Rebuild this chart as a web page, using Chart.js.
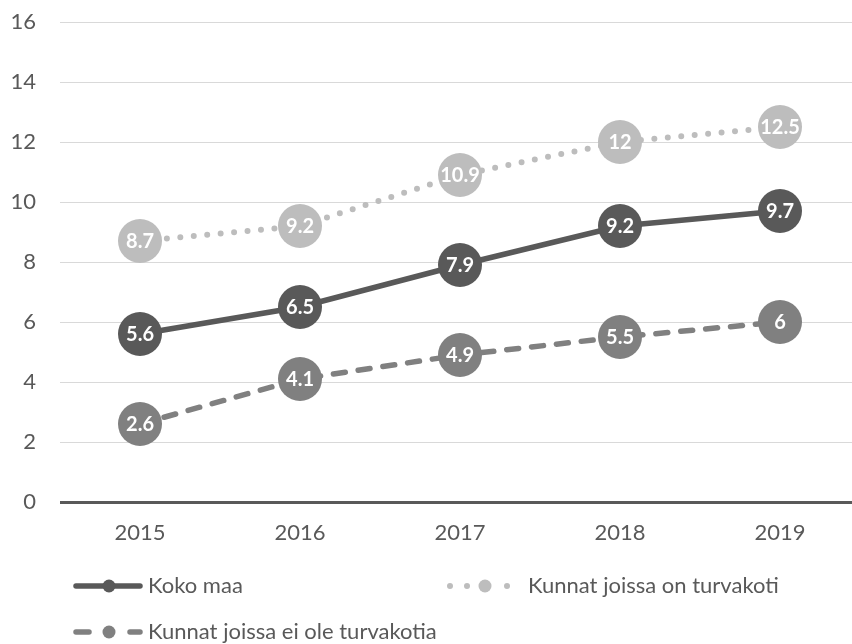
<!DOCTYPE html>
<html><head><meta charset="utf-8">
<script src="https://cdn.jsdelivr.net/npm/chart.js@4"></script>
<style>html,body{margin:0;padding:0;overflow:hidden;background:#fff}#w{width:860px;height:644px}</style>
</head><body><div id="w"><canvas id="c" width="860" height="644"></canvas></div>
<script>
const categories = ['2015','2016','2017','2018','2019'];
const kokoMaa = [5.6, 6.5, 7.9, 9.2, 9.7];
const onTurvakoti = [8.7, 9.2, 10.9, 12, 12.5];
const eiTurvakotia = [2.6, 4.1, 4.9, 5.5, 6];
const seriesNames = ['Koko maa','Kunnat joissa on turvakoti','Kunnat joissa ei ole turvakotia'];
const yTicks = [0,2,4,6,8,10,12,14,16];

const FONT = 'Lato, "Open Sans", sans-serif';
const TXT = '#595959';

const labelPlugin = {
  id: 'vals',
  afterDatasetsDraw(chart){
    const ctx = chart.ctx;
    ctx.save();
    ctx.font = 'bold 20px ' + FONT;
    ctx.fillStyle = '#fff';
    ctx.textAlign = 'center';
    ctx.textBaseline = 'middle';
    chart.data.datasets.forEach((ds, i) => {
      chart.getDatasetMeta(i).data.forEach((pt, j) => {
        ctx.fillText(String(ds.data[j]), pt.x, pt.y + 1);
      });
    });
    ctx.restore();
  }
};

const legendPlugin = {
  id: 'customLegend',
  afterDraw(chart){
    const ctx = chart.ctx;
    const items = [
      {x1:76, x2:140, mx:109, tx:148, y:586, dash:[]},
      {x1:450, x2:510, mx:485, tx:528, y:586, dash:[0,17,0,40,0,100]},
      {x1:76, x2:140, mx:109, tx:148, y:632, dash:[13,41,10,100]}
    ];
    ctx.save();
    chart.data.datasets.forEach((ds, i) => {
      const it = items[i];
      ctx.strokeStyle = ds.borderColor;
      ctx.lineWidth = ds.borderWidth;
      ctx.lineCap = 'round';
      ctx.setLineDash(it.dash);
      ctx.beginPath();
      ctx.moveTo(it.x1, it.y);
      ctx.lineTo(it.x2, it.y);
      ctx.stroke();
      ctx.setLineDash([]);
      ctx.fillStyle = ds.pointBackgroundColor;
      ctx.beginPath();
      ctx.arc(it.mx, it.y, 6.5, 0, Math.PI * 2);
      ctx.fill();
      ctx.fillStyle = TXT;
      ctx.font = '22px ' + FONT;
      ctx.textAlign = 'left';
      ctx.textBaseline = 'middle';
      ctx.fillText(ds.label, it.tx, it.y);
    });
    ctx.restore();
  }
};

new Chart(document.getElementById('c'), {
  type: 'line',
  data: {
    labels: categories,
    datasets: [
      {label: seriesNames[0], data: kokoMaa, borderColor:'#595959', pointBackgroundColor:'#595959', pointBorderColor:'#595959', borderWidth:5.5, borderCapStyle:'round', pointRadius:22, pointHoverRadius:22, pointBorderWidth:0, order:1},
      {label: seriesNames[1], data: onTurvakoti, borderColor:'#BDBDBD', pointBackgroundColor:'#BDBDBD', pointBorderColor:'#BDBDBD', borderWidth:6, borderDash:[0,13.5], borderCapStyle:'round', pointRadius:22, pointHoverRadius:22, pointBorderWidth:0, order:2},
      {label: seriesNames[2], data: eiTurvakotia, borderColor:'#808080', pointBackgroundColor:'#808080', pointBorderColor:'#808080', borderWidth:5.5, borderDash:[12,13], borderCapStyle:'round', pointRadius:22, pointHoverRadius:22, pointBorderWidth:0, order:3}
    ]
  },
  options: {
    responsive: false,
    animation: false,
    layout: {autoPadding: false, padding: {top: 22, right: 0, bottom: 0, left: 0}},
    plugins: {legend: {display:false}, tooltip: {enabled:false}},
    scales: {
      x: {
        offset: true,
        grid: {display:false, drawTicks:false},
        border: {display:false},
        ticks: {color: TXT, font:{family: FONT, size:22}, padding: 18, maxRotation:0},
        afterFit(s){ s.height = 142; s.paddingLeft = 0; s.paddingRight = 0; }
      },
      y: {
        min: 0, max: 16,
        afterBuildTicks(s){ s.ticks = yTicks.map(v => ({value:v})); },
        grid: {
          color: c => c.tick && c.tick.value === 0 ? '#595959' : '#D9D9D9',
          lineWidth: c => c.tick && c.tick.value === 0 ? 3 : 1,
          drawTicks: false
        },
        border: {display:false},
        ticks: {color: TXT, font:{family: FONT, size:22}, padding: 24},
        afterFit(s){ s.width = 60; s.paddingTop = 0; s.paddingBottom = 0; }
      }
    }
  },
  plugins: [labelPlugin, legendPlugin]
});
</script></body></html>
